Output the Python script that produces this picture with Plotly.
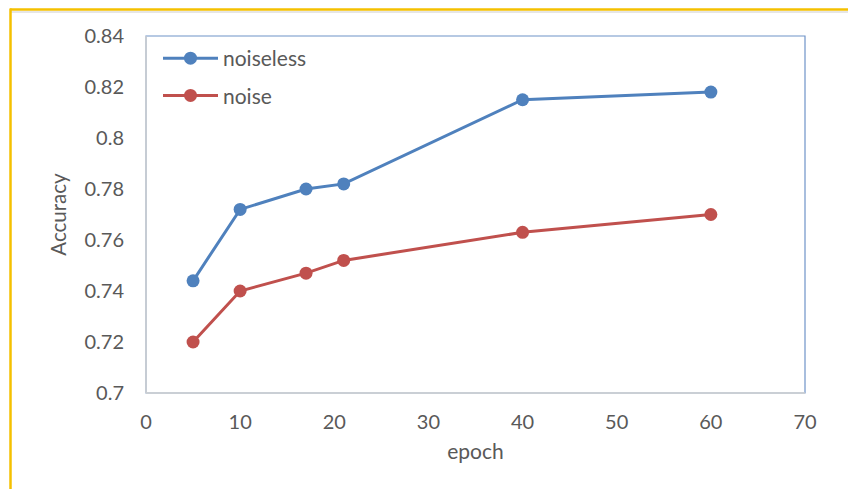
import plotly.graph_objects as go

epochs = [5, 10, 17, 21, 40, 60]
noiseless = [0.744, 0.772, 0.780, 0.782, 0.815, 0.818]
noise = [0.720, 0.740, 0.747, 0.752, 0.763, 0.770]
series_names = ["noiseless", "noise"]

W, H = 848, 489
L, R, T, B = 146, 43, 36, 96
pw, ph = W - L - R, H - T - B

def px(x):
    return (x - L) / pw

def py(y):
    return (H - B - y) / ph

font = "Lato, 'Open Sans', sans-serif"
grey = "#595959"

fig = go.Figure()
fig.add_trace(go.Scatter(x=epochs, y=noiseless, name=series_names[0], mode="lines+markers",
                         line=dict(color="#4f81bd", width=3),
                         marker=dict(color="#4f81bd", size=13), legendgroup="a"))
fig.add_trace(go.Scatter(x=epochs, y=noise, name=series_names[1], mode="lines+markers",
                         line=dict(color="#c0504d", width=3),
                         marker=dict(color="#c0504d", size=13), legendgroup="b"))

shapes = [
    dict(type="rect", xref="paper", yref="paper", x0=0, x1=1, y0=0, y1=1,
         line=dict(color="#6f93c8", width=1.2), layer="below"),
    dict(type="line", xref="paper", yref="paper", x0=0, x1=0, y0=0, y1=1,
         line=dict(color="#d0d0d0", width=1.5)),
    dict(type="line", xref="paper", yref="paper", x0=0, x1=1, y0=0, y1=0,
         line=dict(color="#d0d0d0", width=1.5)),
    dict(type="line", xref="paper", yref="paper", x0=px(10), x1=px(850), y0=py(12), y1=py(12),
         line=dict(color="#e6e6e6", width=2)),
    dict(type="line", xref="paper", yref="paper", x0=px(10), x1=px(850), y0=py(9.5), y1=py(9.5),
         line=dict(color="#f5c000", width=2.5)),
    dict(type="line", xref="paper", yref="paper", x0=px(10.5), x1=px(10.5), y0=py(8.5), y1=py(492),
         line=dict(color="#f5c000", width=2.5)),
]

fig.update_layout(
    width=W, height=H,
    margin=dict(l=L, r=R, t=T, b=B),
    paper_bgcolor="white", plot_bgcolor="white",
    font=dict(family=font, size=20, color=grey),
    showlegend=True,
    legend=dict(x=px(158), y=py(38), xanchor="left", yanchor="top",
                bgcolor="rgba(0,0,0,0)", font=dict(size=21, color=grey),
                tracegroupgap=7, traceorder="grouped", itemwidth=55),
    shapes=shapes,
    xaxis=dict(range=[0, 70], dtick=10, tick0=0, showgrid=False, zeroline=False,
               showline=False, ticks="", ticklabelstandoff=15,
               title=dict(text="epoch", font=dict(size=21, color=grey), standoff=12)),
    yaxis=dict(range=[0.7, 0.84], dtick=0.02, tick0=0.7, showgrid=False, zeroline=False,
               showline=False, ticks="", ticklabelstandoff=21, tickformat="",
               title=dict(text="Accuracy", font=dict(size=20.5, color=grey), standoff=12)),
)

fig.write_html("out.html", config={"displayModeBar": False},
               post_script="document.body.style.margin='0';")
